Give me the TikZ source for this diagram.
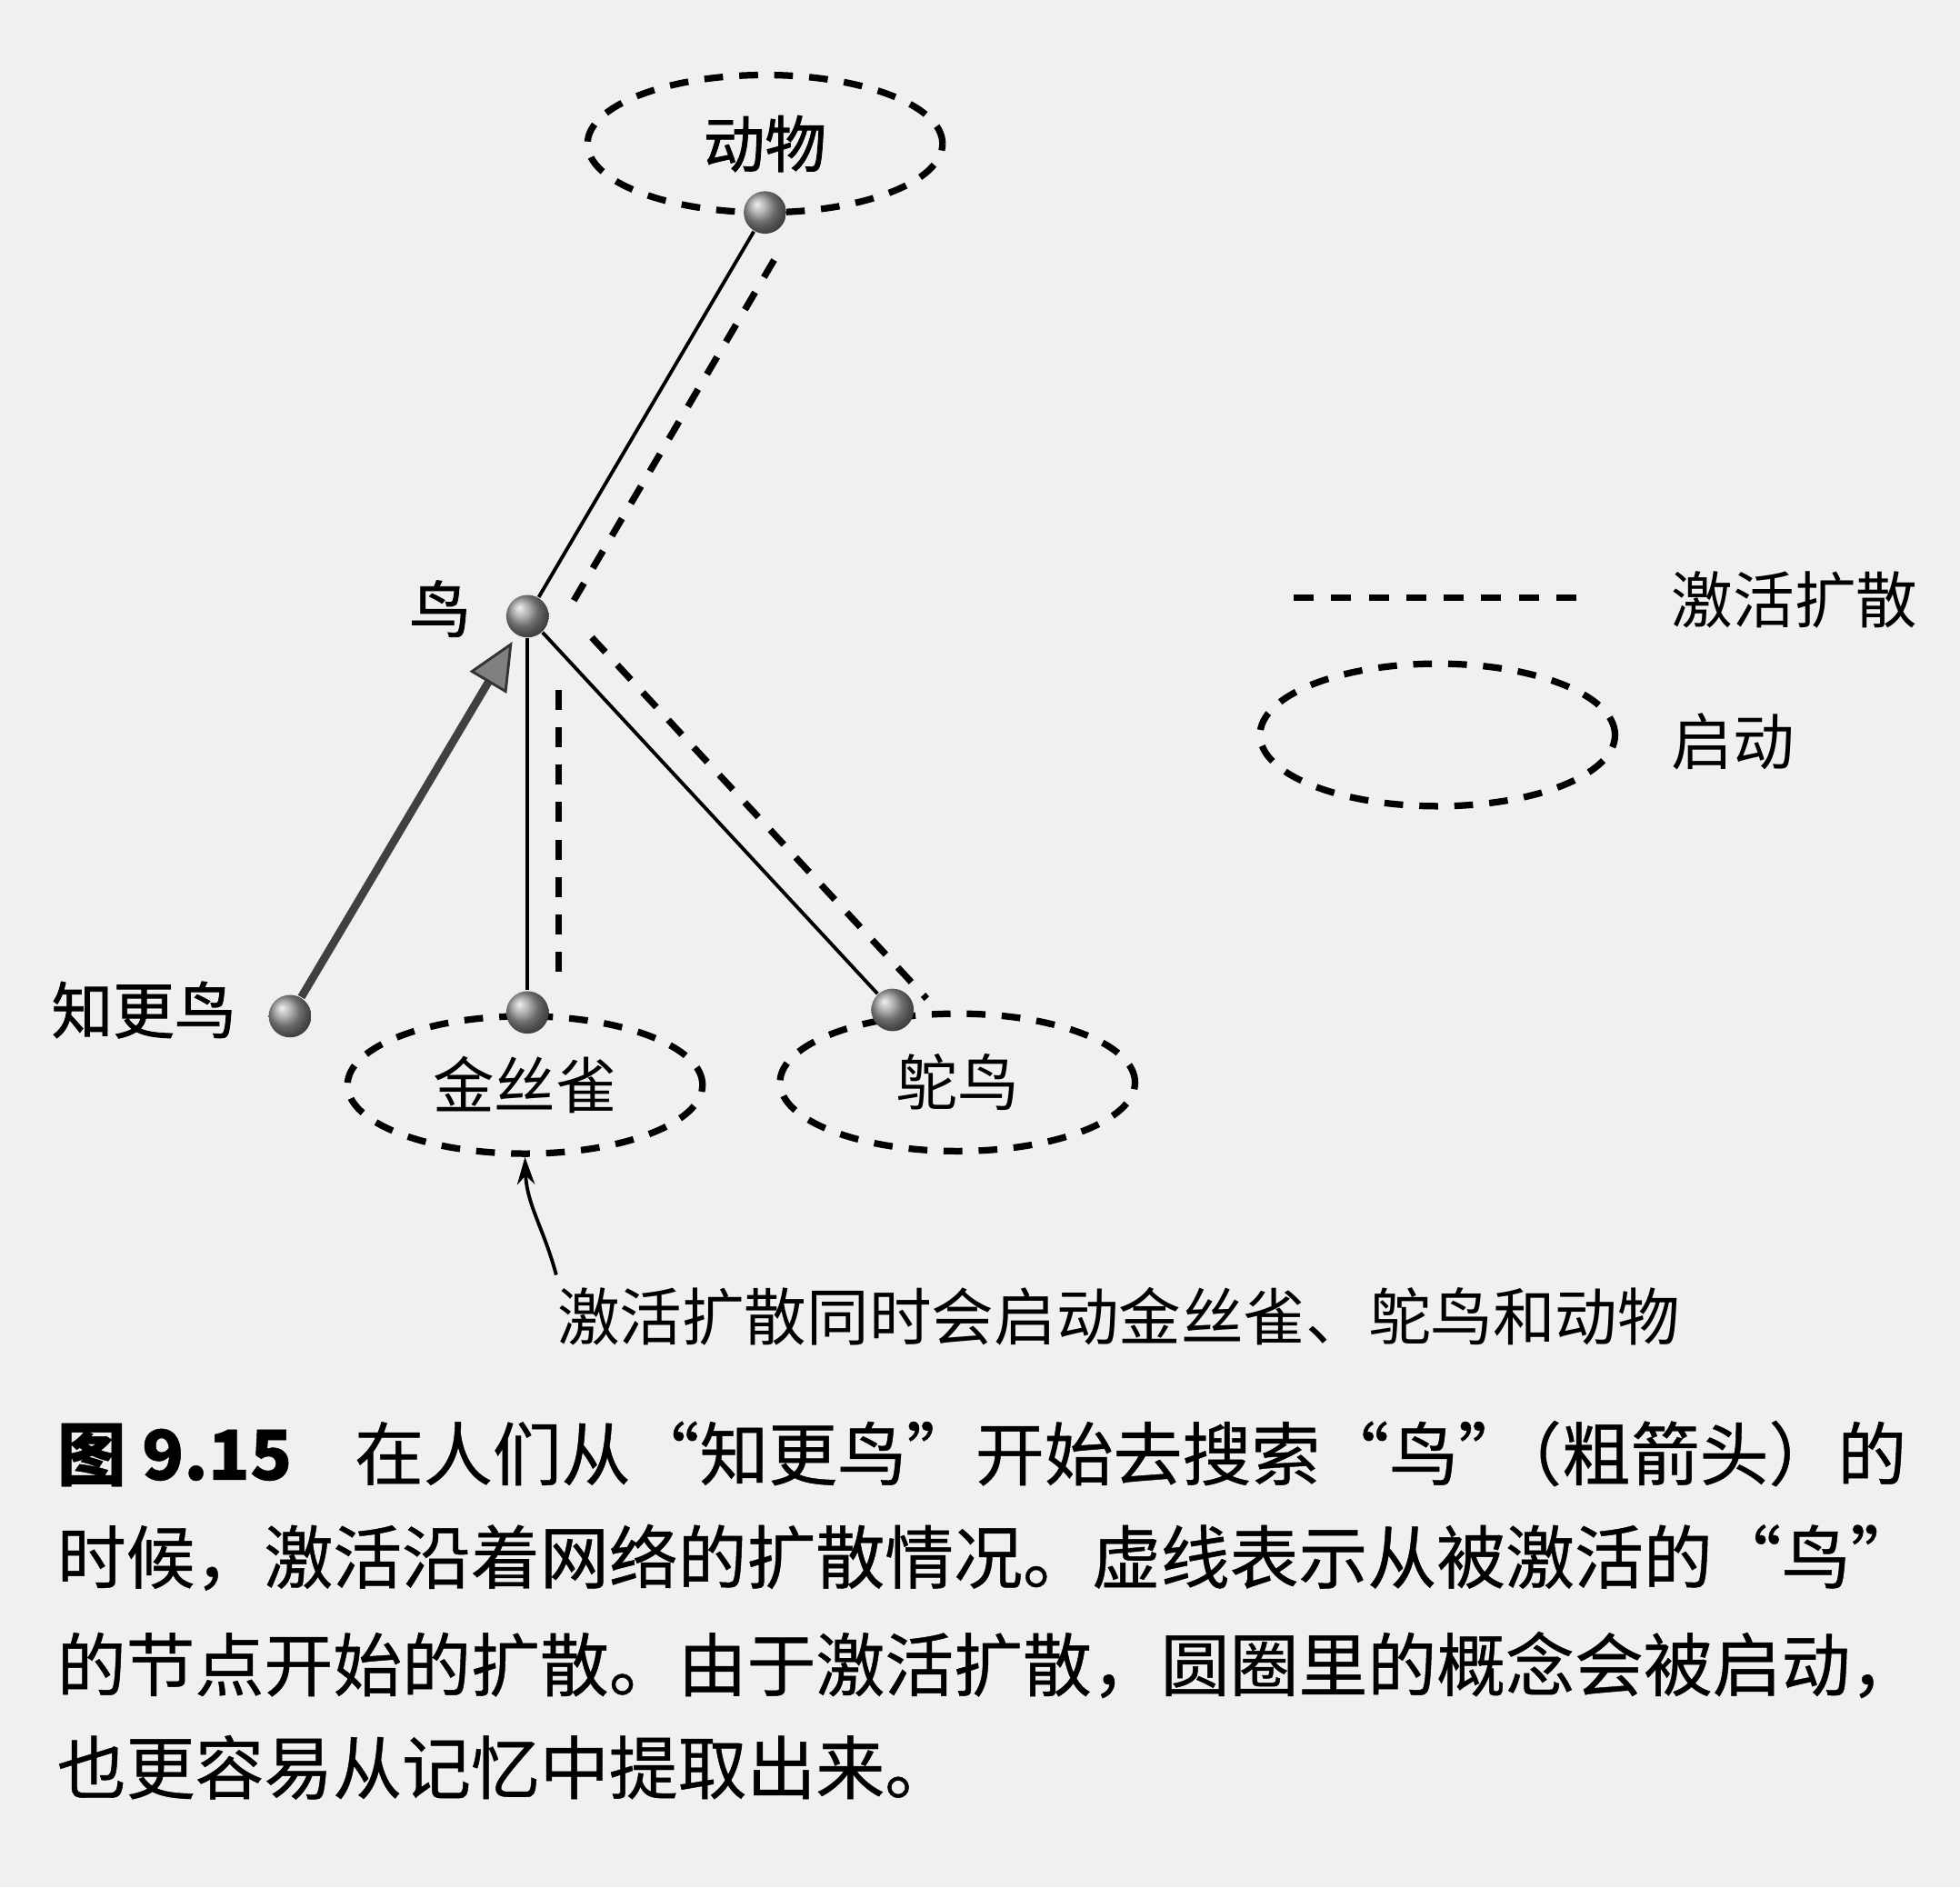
\documentclass[tikz,border=0pt]{standalone}
\usepackage{fontspec}
\setmainfont{Noto Sans CJK SC}
\newfontfamily\medcjk[FakeBold=1.2]{Noto Sans CJK SC}
\newfontfamily\capcjk[FakeBold=0.6]{Noto Sans CJK SC}
\usetikzlibrary{shapes.geometric,arrows.meta}
\begin{document}
\begin{tikzpicture}
\tikzstyle{page}=[fill=black!6,draw=none];
\tikzstyle{ball}=[circle,inner sep=0pt,minimum size=0.34cm,shading=ball,ball color=gray!80];
\tikzstyle{prime}=[ellipse,draw,line width=1.5pt,dash pattern=on 0.15cm off 0.13cm,minimum width=2.84cm,minimum height=1.1cm,font=\fontsize{14pt}{16pt}\selectfont];
\tikzstyle{word}=[font=\fontsize{14pt}{16pt}\selectfont];
\tikzstyle{link}=[line width=0.8pt];
\tikzstyle{spread}=[line width=1.5pt,dash pattern=on 0.16cm off 0.14cm];
\tikzstyle{search}=[line width=1.8pt,draw=black!75,-{Triangle[length=0.38cm,width=0.34cm,line width=0.6pt,color=black!80,fill=gray]}];
\tikzstyle{pointer}=[line width=0.8pt,-{Stealth[length=0.22cm,width=0.14cm]}];
\tikzstyle{caption}=[anchor=west,inner sep=0pt,font=\fontsize{15.7pt}{18pt}\capcjk];
\fill [page] (0,0) rectangle (15.68,-15.10);
\useasboundingbox (0,0) rectangle (15.68,-15.10);

% concepts that get primed
\node [prime] (e1) at (6.12,-1.15) {\medcjk 动物};
\node [prime] (e2) at (4.20,-8.68) {金丝雀};
\node [prime] (e3) at (7.66,-8.66) {鸵鸟};

\node [ball] (animal) at (6.12,-1.70) {};
\node [ball] (bird) at (4.22,-4.93) {};
\node [ball] (robin) at (2.32,-8.13) {};
\node [ball] (canary) at (4.22,-8.10) {};
\node [ball] (ostrich) at (7.14,-8.08) {};
\node [word] at (3.52,-4.87) {\medcjk 鸟};
\node [word] at (1.15,-8.08) {\medcjk 知更鸟};

\draw [link] (bird) -- (animal);
\draw [link] (bird) -- (canary);
\draw [link] (bird) -- (ostrich);
\draw [spread,transform canvas={shift={(0.22,-0.13)}},shorten <=0.12cm,shorten >=0.1cm] (bird) -- (animal);
\draw [spread,transform canvas={shift={(0.25,0)}},shorten <=0.41cm,shorten >=0.07cm] (bird) -- (canary);
\draw [spread,transform canvas={shift={(0.19,0.18)}},shorten <=0.3cm,shorten >=-0.3cm] (bird) -- (ostrich);
\draw [search,shorten >=0.06cm] (robin) -- (bird);

% legend
\coordinate (k1) at (10.35,-4.78);
\coordinate (k2) at (12.72,-4.78);
\draw [spread] (k1) -- (k2);
\node [word,anchor=west] at (13.25,-4.80) {激活扩散};
\node [prime,minimum height=1.14cm] (e4) at (11.50,-5.88) {};
\node [word,anchor=west] at (13.25,-5.93) {启动};

% note
\node [word,font=\fontsize{14.2pt}{16pt}\selectfont] (note) at (8.95,-10.53) {激活扩散同时会启动金丝雀、鸵鸟和动物};
\coordinate (n1) at (4.45,-10.20);
\draw [pointer] (n1) to[out=105,in=-88] (e2.south);

\node [caption] (c1) at (0.45,-11.63) {\textbf{图 9.15}\hspace{0.5cm}在人们从“知更鸟”开始去搜索“鸟”\hspace{-0.5em}（粗箭头）的};
\node [caption] (c2) at (0.45,-12.46) {时候，激活沿着网络的扩散情况。虚线表示从被激活的“鸟”};
\node [caption] (c3) at (0.45,-13.32) {的节点开始的扩散。由于激活扩散，圆圈里的概念会被启动，};
\node [caption] (c4) at (0.45,-14.14) {也更容易从记忆中提取出来。};
\end{tikzpicture}
\end{document}
